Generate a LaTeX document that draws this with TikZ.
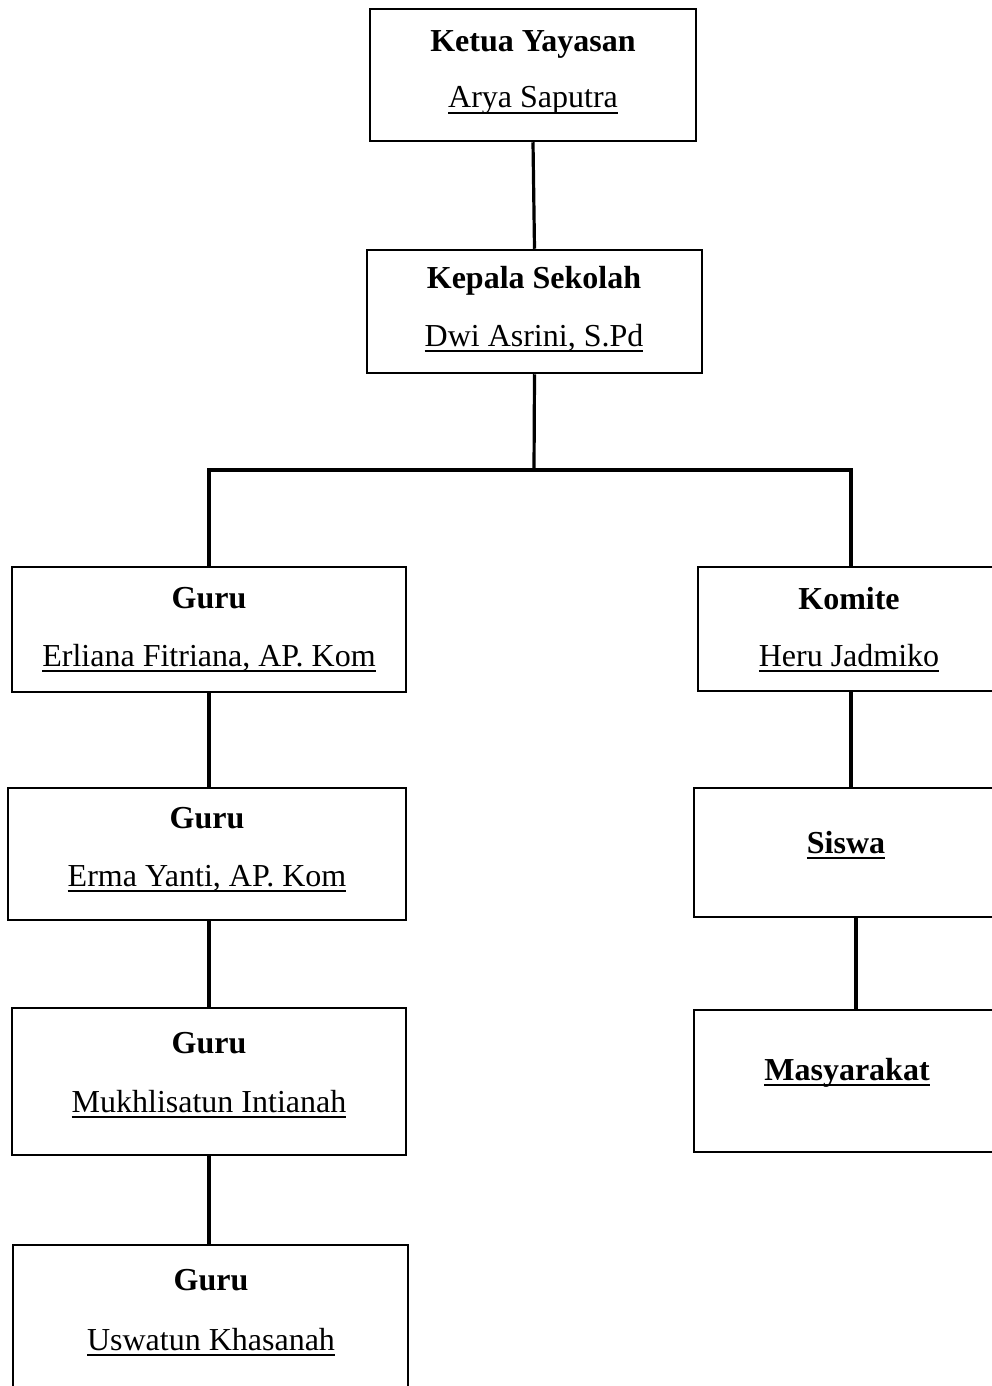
\documentclass[tikz,border=0pt]{standalone}
\usepackage{fontspec}
\setmainfont{Liberation Serif}
\newcommand{\myul}[1]{\setbox0\hbox{#1}\rlap{\rule[-6pt]{\wd0}{2pt}}\box0}
\begin{document}
\begin{tikzpicture}[x=1pt,y=-1pt,
  box/.style={draw=black,line width=2.5pt,rectangle,inner sep=0pt},
  conn/.style={draw=black,line width=3.2pt},
  ttl/.style={anchor=base,inner sep=0pt,font=\fontsize{32}{38}\selectfont\bfseries},
  nm/.style={anchor=base,inner sep=0pt,font=\fontsize{32}{38}\selectfont}]
\useasboundingbox (0,0) rectangle (992,1386);
\clip (0,0) rectangle (992,1386);
% boxes
\node[box,minimum width=326pt,minimum height=132pt] (ketua) at (533,75) {};
\node[box,minimum width=335pt,minimum height=123pt] (kepala) at (534.5,311.5) {};
\node[box,minimum width=394pt,minimum height=125pt] (guru1) at (209,629.5) {};
\node[box,minimum width=398pt,minimum height=132pt] (guru2) at (207,854) {};
\node[box,minimum width=394pt,minimum height=147pt] (guru3) at (209,1081.5) {};
\node[box,minimum width=395pt,minimum height=160pt] (guru4) at (210.5,1325) {};
\node[box,minimum width=304pt,minimum height=124pt] (komite) at (850,629) {};
\node[box,minimum width=306pt,minimum height=129pt] (siswa) at (847,852.5) {};
\node[box,minimum width=306pt,minimum height=142pt] (masy) at (847,1081) {};
% texts
\node[ttl] (ketuaT) at (533,52) {Ketua Yayasan};
\node[nm] (ketuaN) at (533,108) {\myul{Arya Saputra}};
\node[ttl] (kepalaT) at (534,288) {Kepala Sekolah};
\node[nm] (kepalaN) at (534,346) {\myul{Dwi Asrini, S.Pd}};
\node[ttl] (guru1T) at (209,608) {Guru};
\node[nm] (guru1N) at (209,666) {\myul{Erliana Fitriana, AP. Kom}};
\node[ttl] (guru2T) at (207,828) {Guru};
\node[nm] (guru2N) at (207,886) {\myul{Erma Yanti, AP. Kom}};
\node[ttl] (guru3T) at (209,1053) {Guru};
\node[nm] (guru3N) at (209,1112) {\myul{Mukhlisatun Intianah}};
\node[ttl] (guru4T) at (211,1290) {Guru};
\node[nm] (guru4N) at (211,1350) {\myul{Uswatun Khasanah}};
\node[ttl] (komiteT) at (849,609) {Komite};
\node[nm] (komiteN) at (849,666) {\myul{Heru Jadmiko}};
\node[ttl] (siswaT) at (846,853) {\myul{Siswa}};
\node[ttl] (masyT) at (847,1080) {\myul{Masyarakat}};
% connectors
\coordinate (junc) at (534,470);
\coordinate (jl) at (209,470);
\coordinate (jr) at (851,470);
\draw[conn] (ketua.south) -- (kepala.north);
\draw[conn] (kepala.south) -- (junc);
\draw[conn,line cap=rect] (jl) -- (jr);
\draw[conn] (jl) -- (jl |- guru1.north);
\draw[conn] (jr) -- (jr |- komite.north);
\draw[conn] (guru1.south) -- (guru1.south |- guru2.north);
\draw[conn] (guru2.south -| guru3.north) -- (guru3.north);
\draw[conn] (guru3.south) -- (guru3.south |- guru4.north);
\draw[conn] (jr |- komite.south) -- (jr |- siswa.north);
\draw[conn] (856,0 |- siswa.south) -- (856,0 |- masy.north);
\end{tikzpicture}
\end{document}
